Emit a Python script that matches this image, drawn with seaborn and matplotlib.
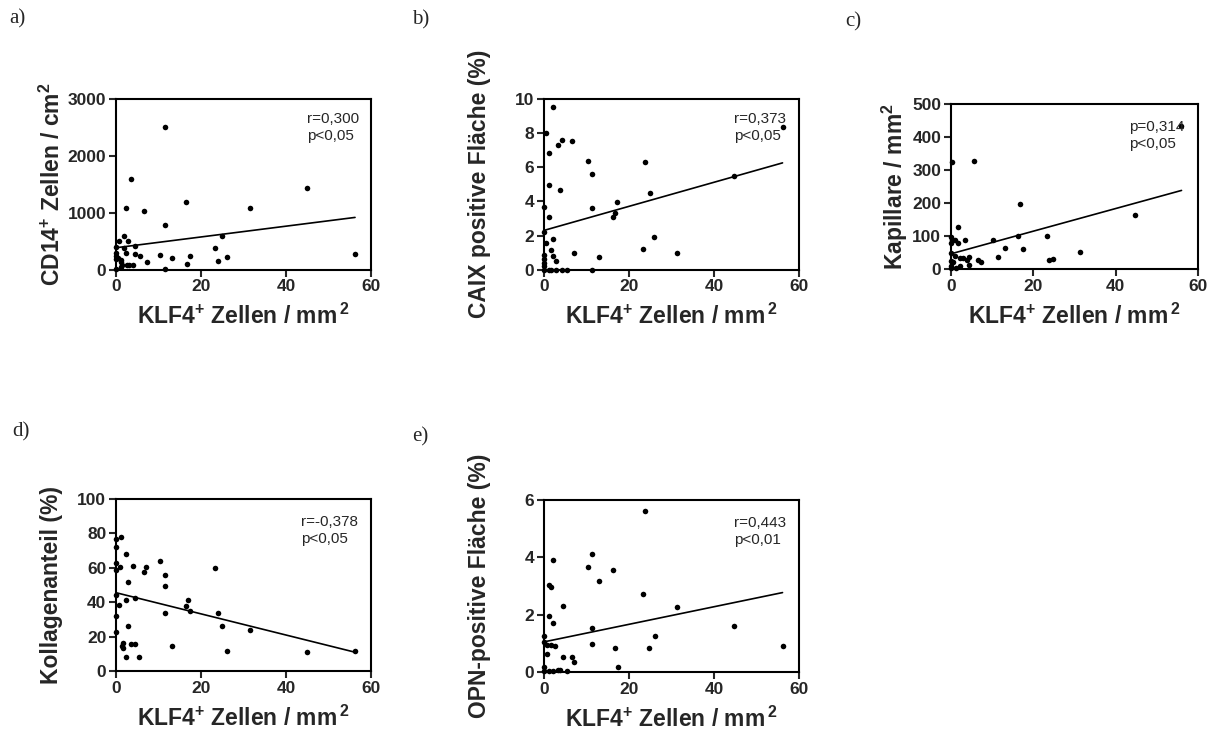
import matplotlib
matplotlib.use("Agg")
import matplotlib.pyplot as plt
import seaborn as sns

# KLF4+ cells / mm2 (x) and the measured variable (y), one pair of lists per panel
a_x = [11.4, 3.45, 2.3, 6.6, 16.4, 31.5, 44.9, 11.4, 24.9, 56.2, 23.3, 26.0, 23.9, 17.4,
       16.8, 13.1, 10.4, 11.5, 7.2, 5.6, 4.5, 4.5, 2.9, 1.8, 0.7, 1.8, 2.35, 2.6, 3.1, 3.9,
       0.0, 0.0, 0.0, 0.0, 0.55, 1.2, 1.2, 1.3, 1.2, 0.0]
a_y = [2500, 1600, 1080, 1030, 1180, 1080, 1430, 780, 590, 270, 390, 215, 155, 235,
       95, 200, 265, 20, 135, 240, 420, 280, 510, 590, 510, 380, 290, 80, 80, 75,
       400, 290, 240, 185, 205, 175, 130, 85, 45, 20]
a_line = ([0, 56.2], [386, 918])

b_x = [2.2, 0.5, 4.3, 6.5, 3.3, 1.2, 10.3, 23.8, 11.4, 1.2, 3.8, 24.9, 17.2, 0.1, 11.4,
       1.2, 16.2, 16.7, 2.2, 0.55, 25.9, 0.1, 1.6, 23.2, 7.1, 31.3, 2.2, 13.0, 2.8,
       0.0, 0.0, 0.0, 0.0, 0.0, 1.2, 1.6, 2.8, 4.3, 5.4, 11.4, 44.8, 56.1]
b_y = [9.5, 8.0, 7.6, 7.55, 7.3, 6.8, 6.35, 6.3, 5.6, 4.95, 4.65, 4.5, 3.95, 3.65, 3.6,
       3.1, 3.1, 3.3, 1.8, 1.55, 1.9, 2.2, 1.15, 1.2, 0.95, 0.95, 0.8, 0.72, 0.5,
       0.85, 0.65, 0.42, 0.22, 0.0, 0.0, 0.0, 0.0, 0.0, 0.0, 0.0, 5.5, 8.35]
b_line = ([0, 56.1], [2.3, 6.25])

c_x = [0.3, 5.5, 55.9, 16.8, 44.6, 1.8, 0.0, 0.2, 0.1, 1.0, 1.6, 3.3, 10.3, 16.3, 23.3,
       13.1, 17.4, 31.3, 11.5, 23.8, 24.8, 6.6, 7.2, 4.4, 3.9, 2.8, 2.2, 1.05, 0.1, 0.0,
       0.4, 4.4, 2.2, 1.1, 0.0, 0.0]
c_y = [324, 326, 432, 196, 165, 126, 97, 89, 79, 89, 79, 87, 87, 101, 100,
       64, 61, 52, 35, 28, 31, 26, 22, 37, 26, 33, 32, 38, 48, 23,
       20, 13, 8, 4, 2, 10]
c_line = ([0, 56.0], [46, 238])

d_x = [0.1, 0.1, 1.25, 0.1, 0.1, 0.9, 2.3, 3.9, 7.1, 6.6, 10.35, 11.4, 11.4, 23.3, 2.8,
       0.1, 0.6, 2.3, 4.4, 16.9, 16.4, 17.4, 11.4, 23.9, 24.9, 2.8, 0.1, 31.5, 0.1,
       1.4, 1.7, 1.6, 3.45, 4.4, 13.1, 26.0, 44.9, 56.2, 2.3, 5.5]
d_y = [76.5, 72, 78, 62.6, 58.7, 60.7, 67.8, 61, 60.7, 57.4, 63.8, 55.8, 49.6, 59.9, 51.6,
       44, 38.2, 41, 42.6, 41, 37.6, 34.9, 33.5, 33.5, 26.4, 26.2, 31.8, 24, 22.5,
       14.5, 13.5, 16, 15.7, 15.7, 14.7, 11.8, 11, 11.8, 8, 8.3]
d_line = ([0, 56.2], [45.5, 10.9])

e_x = [23.8, 11.3, 2.2, 10.3, 16.2, 12.9, 1.1, 1.6, 23.2, 4.4, 31.2, 1.1, 2.2, 44.7, 11.3,
       26.0, 0.0, 0.0, 0.6, 1.6, 2.7, 11.3, 16.7, 24.8, 56.1, 0.6, 4.4, 6.5, 7.1, 17.3,
       0.0, 0.0, 1.1, 2.2, 3.3, 3.8, 5.4]
e_y = [5.61, 4.13, 3.91, 3.67, 3.57, 3.17, 3.03, 2.96, 2.73, 2.29, 2.26, 1.97, 1.72, 1.62, 1.54,
       1.27, 1.25, 1.05, 0.93, 0.93, 0.92, 0.98, 0.85, 0.84, 0.89, 0.62, 0.53, 0.51, 0.35, 0.19,
       0.19, 0.05, 0.03, 0.04, 0.06, 0.08, 0.02]
e_line = ([0, 56.1], [1.05, 2.77])

x_label = "KLF4$^{+}$ Zellen / mm$^{\\,2}$"
y_labels = ["CD14$^{+}$ Zellen / cm$^{2}$", "CAIX positive Fläche (%)",
            "Kapillare / mm$^{2}$", "Kollagenanteil (%)", "OPN-positive Fläche (%)"]
stats = ["r=0,300\np<0,05", "r=0,373\np<0,05", "p=0,314\np<0,05",
         "r=-0,378\np<0,05", "r=0,443\np<0,01"]
panel_tags = ["a)", "b)", "c)", "d)", "e)"]
y_max = [3000, 10, 500, 100, 6]
y_step = [1000, 2, 100, 20, 2]

sns.set_style("ticks")
plt.rcParams["font.family"] = ["Liberation Sans", "DejaVu Sans"]
plt.rcParams["mathtext.fontset"] = "custom"
plt.rcParams["mathtext.rm"] = "Liberation Sans:bold"
plt.rcParams["mathtext.it"] = "Liberation Sans:bold"
plt.rcParams["mathtext.bf"] = "Liberation Sans:bold"

fig = plt.figure(figsize=(12.15, 7.37), dpi=100)

# axes boxes [left, bottom, width, height] in figure fractions
boxes = [
    [0.0955, 0.634, 0.210, 0.232],
    [0.4477, 0.634, 0.210, 0.232],
    [0.7827, 0.635, 0.2033, 0.224],
    [0.0955, 0.0896, 0.210, 0.2334],
    [0.4477, 0.0882, 0.210, 0.2334],
]
ylabel_x = [-0.251, -0.251, -0.227, -0.251, -0.251]
stat_pos = [(0.75, 0.92), (0.745, 0.92), (0.72, 0.90), (0.725, 0.907), (0.745, 0.907)]
tag_pos = [(0.008, 0.987), (0.339, 0.986), (0.6955, 0.983), (0.0098, 0.427), (0.339, 0.420)]

panels = [(a_x, a_y, a_line), (b_x, b_y, b_line), (c_x, c_y, c_line),
          (d_x, d_y, d_line), (e_x, e_y, e_line)]

for i, (xs, ys, line) in enumerate(panels):
    ax = fig.add_axes(boxes[i])
    sns.scatterplot(x=xs, y=ys, ax=ax, color="black", s=16, linewidth=0, clip_on=False)
    sns.lineplot(x=line[0], y=line[1], ax=ax, color="black", linewidth=1.2)
    ax.set_xlim(0, 60)
    ax.set_ylim(0, y_max[i])
    ax.set_xticks(range(0, 61, 20))
    ax.set_yticks(range(0, y_max[i] + 1, y_step[i]))
    for side in ["top", "right", "left", "bottom"]:
        ax.spines[side].set_visible(True)
        ax.spines[side].set_linewidth(1.5)
        ax.spines[side].set_color("black")
    ax.tick_params(direction="out", length=5, width=1.5, labelsize=12.5, pad=2,
                   top=False, right=False)
    for lab in ax.get_xticklabels() + ax.get_yticklabels():
        lab.set_fontweight("bold")
    ax.set_xlabel(x_label, fontsize=16.5, fontweight="bold", labelpad=7)
    ax.set_ylabel(y_labels[i], fontsize=16.5, fontweight="bold", va="center")
    ax.yaxis.set_label_coords(ylabel_x[i], 0.5)
    ax.text(stat_pos[i][0], stat_pos[i][1], stats[i], transform=ax.transAxes,
            ha="left", va="top", fontsize=11, linespacing=1.25)
    fig.text(tag_pos[i][0], tag_pos[i][1], panel_tags[i], ha="left", va="top",
             fontsize=15, family="Liberation Serif")

fig.savefig("out.png", dpi=100)
